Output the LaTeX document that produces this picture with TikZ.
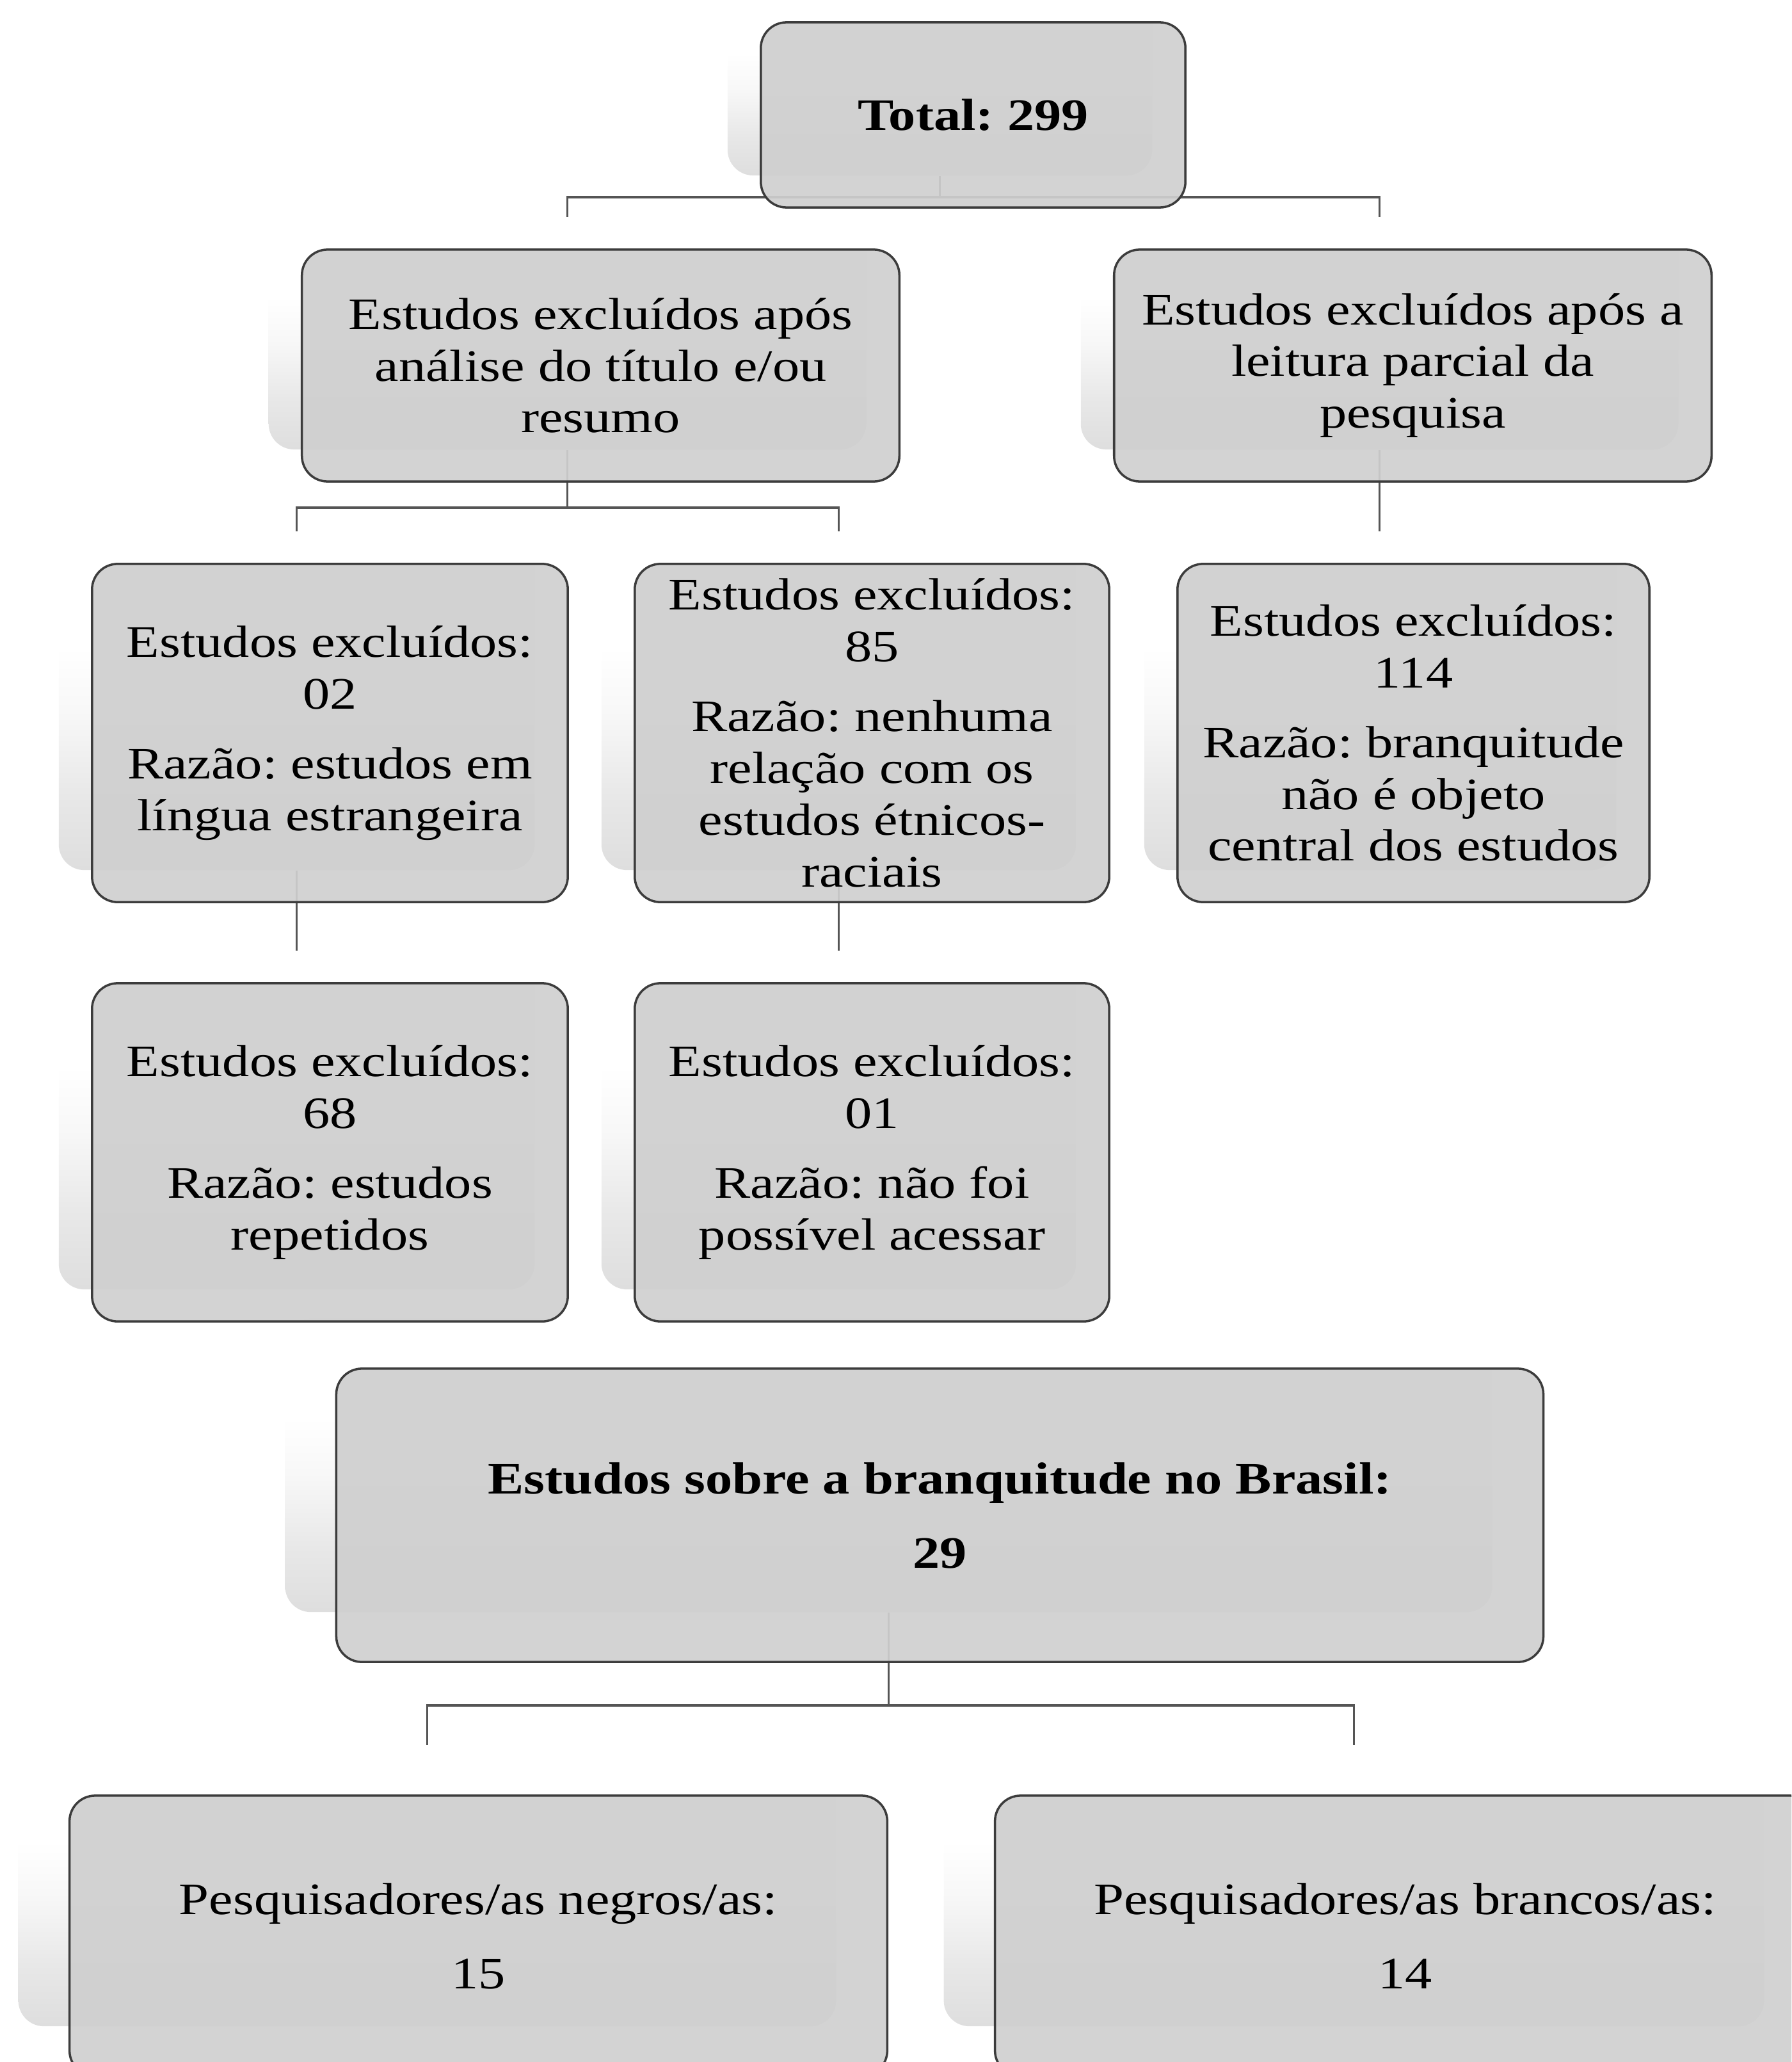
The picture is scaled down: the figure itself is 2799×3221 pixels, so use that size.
\documentclass[tikz,border=0pt]{standalone}
\usepackage{fontspec}
\setmainfont{Liberation Serif}[FakeStretch=1.2]
\frenchspacing
\definecolor{boxfill}{HTML}{CFCFCF}
\definecolor{boxline}{HTML}{3C3C3C}
\definecolor{linkgray}{HTML}{555555}
\pgfdeclareverticalshading{ghostfade}{100bp}{color(0bp)=(black!13); color(25bp)=(black!13);
  color(36bp)=(black!9); color(48bp)=(black!3); color(58bp)=(white); color(100bp)=(white)}

\begin{document}
\begin{tikzpicture}[x=0.01cm, y=-0.01cm,
    box/.style={draw=boxline, line width=1pt, fill=boxfill, fill opacity=0.92,
      text opacity=1, rounded corners=0.4cm, align=center, inner sep=0pt,
      font=\fontsize{20}{23}\selectfont},
    bigbox/.style={box, font=\fontsize{20}{33}\selectfont},
    ghost/.style={rounded corners=0.4cm, shading=ghostfade, inner sep=0pt},
    link/.style={draw=linkgray, line width=1pt}]
    \useasboundingbox (0,0) rectangle (2799,3221);
    \clip (0,0) rectangle (2799,3221);

    % faded copies behind the boxes
    \node[ghost, minimum width=6.63cm, minimum height=2.89cm] (totalg) at (1468.5,129.5) {};
    \node[ghost, minimum width=9.33cm, minimum height=3.62cm] (analiseg) at (886.5,521) {};
    \node[ghost, minimum width=9.33cm, minimum height=3.62cm] (leiturag) at (2155.5,521) {};
    \node[ghost, minimum width=7.43cm, minimum height=5.28cm] (linguag) at (463.5,1095) {};
    \node[ghost, minimum width=7.41cm, minimum height=5.28cm] (etnicog) at (1310.5,1095) {};
    \node[ghost, minimum width=7.37cm, minimum height=5.28cm] (objetog) at (2156.5,1095) {};
    \node[ghost, minimum width=7.43cm, minimum height=5.28cm] (repetidog) at (463.5,1750) {};
    \node[ghost, minimum width=7.41cm, minimum height=5.28cm] (acessog) at (1310.5,1750) {};
    \node[ghost, minimum width=18.85cm, minimum height=4.58cm] (brasilg) at (1388.5,2289) {};
    \node[ghost, minimum width=12.77cm, minimum height=4.38cm] (negrosg) at (667.5,2946) {};
    \node[ghost, minimum width=12.81cm, minimum height=4.38cm] (brancosg) at (2115.5,2946) {};

    % connectors
    \coordinate (row1) at (0,308);
    \coordinate (row2) at (0,793);
    \coordinate (row3) at (0,2664);
    \draw[link] (totalg.south) -- (totalg.south |- row1) -| (analiseg.north);
    \draw[link] (totalg.south |- row1) -| (leiturag.north);
    \draw[link] (analiseg.south) -- (analiseg.south |- row2) -| (linguag.north);
    \draw[link] (analiseg.south |- row2) -| (etnicog.north);
    \draw[link] (leiturag.south) -- (leiturag.south |- objetog.north);
    \draw[link] (linguag.south) -- (repetidog.north);
    \draw[link] (etnicog.south) -- (acessog.north);
    \draw[link] (brasilg.south) -- (brasilg.south |- row3) -| (negrosg.north);
    \draw[link] (brasilg.south |- row3) -| (brancosg.north);

    % boxes
    \node[box, minimum width=6.63cm, minimum height=2.89cm] (total) at (1520.5,179.5) {\textbf{Total: 299}};
    \node[box, minimum width=9.33cm, minimum height=3.62cm] (analise) at (938.5,571)
      {Estudos excluídos após\\análise do título e/ou\\resumo};
    \node[box, minimum width=9.33cm, minimum height=3.62cm] (leitura) at (2207.5,571)
      {Estudos excluídos após a\\leitura parcial da\\pesquisa};
    \node[box, minimum width=7.43cm, minimum height=5.28cm] (lingua) at (515.5,1145)
      {Estudos excluídos:\\02\\[8pt]Razão: estudos em\\língua estrangeira};
    \node[box, minimum width=7.41cm, minimum height=5.28cm] (etnico) at (1362.5,1145)
      {Estudos excluídos:\\85\\[8pt]Razão: nenhuma\\relação com os\\estudos étnicos-\\raciais};
    \node[box, minimum width=7.37cm, minimum height=5.28cm] (objeto) at (2208.5,1145)
      {Estudos excluídos:\\114\\[8pt]Razão: branquitude\\não é objeto\\central dos estudos};
    \node[box, minimum width=7.43cm, minimum height=5.28cm] (repetido) at (515.5,1800)
      {Estudos excluídos:\\68\\[8pt]Razão: estudos\\repetidos};
    \node[box, minimum width=7.41cm, minimum height=5.28cm] (acesso) at (1362.5,1800)
      {Estudos excluídos:\\01\\[8pt]Razão: não foi\\possível acessar};
    \node[bigbox, minimum width=18.85cm, minimum height=4.58cm] (brasil) at (1468.5,2367)
      {\textbf{Estudos sobre a branquitude no Brasil:}\\\textbf{29}};
    \node[bigbox, minimum width=12.77cm, minimum height=4.38cm] (negros) at (747.5,3024)
      {Pesquisadores/as negros/as:\\15};
    \node[bigbox, minimum width=12.81cm, minimum height=4.38cm] (brancos) at (2195.5,3024)
      {Pesquisadores/as brancos/as:\\14};
\end{tikzpicture}
\end{document}
